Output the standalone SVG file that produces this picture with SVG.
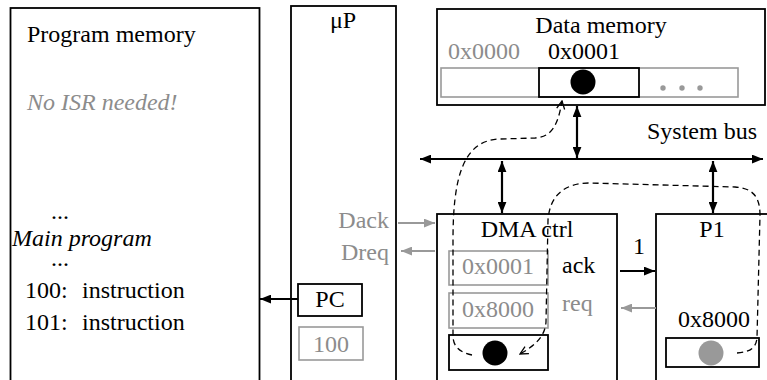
<svg xmlns="http://www.w3.org/2000/svg" width="767" height="380" viewBox="0 0 767 380">
<style>
text{font-family:"Liberation Serif","Times New Roman",serif;font-size:24px;fill:#000}
.g{fill:#8c8c8c}
.it{font-style:italic}
.box{fill:none;stroke:#000;stroke-width:1.8}
.gbox{fill:none;stroke:#999;stroke-width:1.6}
.ln{stroke:#000;stroke-width:2.2;fill:none}
.gln{stroke:#999;stroke-width:2.2;fill:none}
.dash{stroke:#000;stroke-width:1.3;fill:none;stroke-dasharray:6 4}
</style>
<defs>
<marker id="ah" viewBox="0 0 10 8" refX="10" refY="4" markerUnits="userSpaceOnUse" markerWidth="11" markerHeight="9" orient="auto-start-reverse"><path d="M0,0 L10,4 L0,8 z" fill="#000"/></marker>
<marker id="gah" viewBox="0 0 10 8" refX="10" refY="4" markerUnits="userSpaceOnUse" markerWidth="11" markerHeight="9" orient="auto"><path d="M0,0 L10,4 L0,8 z" fill="#999"/></marker>
<marker id="oah" viewBox="0 0 10 10" refX="9" refY="5" markerUnits="userSpaceOnUse" markerWidth="10" markerHeight="10" orient="auto"><path d="M1,1 L9,5 L1,9" fill="none" stroke="#000" stroke-width="1.3"/></marker>
</defs>

<g id="program-memory">
<rect class="box" x="10.5" y="8" width="249" height="390"/>
<text x="27" y="42">Program memory</text>
<text class="g it" x="27" y="110">No ISR needed!</text>
<text x="51" y="219">...</text>
<text class="it" x="12" y="246">Main program</text>
<text x="51" y="266">...</text>
<text x="25" y="298">100:</text><text x="82" y="298">instruction</text>
<text x="25" y="330">101:</text><text x="82" y="330">instruction</text>
</g>

<g id="uP">
<rect class="box" x="291" y="6" width="105" height="390"/>
<text x="343" y="28" text-anchor="middle">μP</text>
<text class="g" x="389" y="228" text-anchor="end">Dack</text>
<text class="g" x="389" y="260" text-anchor="end">Dreq</text>
</g>

<g id="pc">
<rect class="box" x="298" y="284" width="64" height="32"/>
<text x="330" y="307" text-anchor="middle">PC</text>
</g>

<g id="pc-value">
<rect class="gbox" x="299" y="327" width="64" height="33"/>
<text class="g" x="331" y="352" text-anchor="middle">100</text>
</g>

<g id="data-memory">
<rect class="box" x="437" y="9" width="328" height="96"/>
<text x="601" y="33" text-anchor="middle">Data memory</text>
<text class="g" x="448" y="59">0x0000</text>
<text x="548" y="59">0x0001</text>
<rect class="gbox" x="441" y="68" width="297" height="29"/>
<rect class="box" x="539" y="68" width="100" height="29" fill="#fff"/>
<circle cx="583" cy="82" r="12.5" fill="#000"/>
<circle cx="663" cy="88" r="2.7" fill="#999"/>
<circle cx="682" cy="88" r="2.7" fill="#999"/>
<circle cx="700" cy="88" r="2.7" fill="#999"/>
</g>

<g id="system-bus">
<text x="647" y="139">System bus</text>
</g>

<g id="dma-ctrl">
<rect class="box" x="437" y="214" width="180" height="200"/>
<text x="527" y="237" text-anchor="middle">DMA ctrl</text>
<rect class="gbox" x="449" y="251" width="99" height="34"/>
<text class="g" x="462" y="274">0x0001</text>
<rect class="gbox" x="449" y="293" width="99" height="35"/>
<text class="g" x="462" y="317">0x8000</text>
<rect class="box" x="449" y="335" width="99" height="35"/>
<circle cx="495" cy="353" r="12.5" fill="#000"/>
<text x="562" y="273">ack</text>
<text class="g" x="562" y="311">req</text>
</g>

<g id="p1">
<rect class="box" x="656" y="214" width="120" height="200"/>
<text x="712" y="237" text-anchor="middle">P1</text>
<text x="678" y="327">0x8000</text>
<rect class="box" x="666" y="338" width="93" height="29"/>
<circle cx="711" cy="353" r="12.5" fill="#999"/>
</g>

<g id="connectors">
<line class="ln" x1="420" y1="159" x2="763" y2="159" stroke-width="2.5" marker-start="url(#ah)" marker-end="url(#ah)"/>
<line class="ln" x1="577" y1="106" x2="577" y2="158" marker-start="url(#ah)" marker-end="url(#ah)"/>
<line class="ln" x1="502" y1="161" x2="502" y2="213" marker-start="url(#ah)" marker-end="url(#ah)"/>
<line class="ln" x1="713" y1="161" x2="713" y2="213" marker-start="url(#ah)" marker-end="url(#ah)"/>
<line class="ln" x1="298" y1="299" x2="260" y2="299" marker-end="url(#ah)"/>
<line class="gln" x1="398" y1="223" x2="435" y2="223" marker-end="url(#gah)"/>
<line class="gln" x1="435" y1="251" x2="401" y2="251" marker-end="url(#gah)"/>
<line class="ln" x1="620" y1="271" x2="655" y2="271" marker-end="url(#ah)"/>
<text x="633" y="254">1</text>
<line class="gln" x1="656" y1="308" x2="621" y2="308" marker-end="url(#gah)"/>
<path class="dash" d="M472 355 C462 353 453 348 453 336 L453 240 C453 180 462 140 500 139 L535 138 C552 137 558 125 562 101" marker-end="url(#oah)"/>
<path class="dash" d="M737 353 C750 352 756 348 757 338 L760 215 C760 196 752 188 735 187 L590 183 C566 183 550 194 548 220 L546 322 C545 336 536 345 520 354" marker-end="url(#oah)"/>
</g>
</svg>
